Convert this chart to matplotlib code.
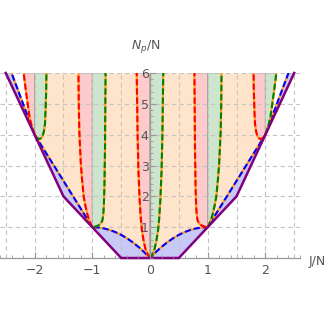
import numpy as np
import matplotlib
matplotlib.use("Agg")
from matplotlib import pyplot as plt

# lower boundary (purple)
edge_x = [-2.5, -2.0, -1.5, -1.0, -0.5, 0.5, 1.0, 1.5, 2.0, 2.5]
edge_y = [6.0, 4.0, 2.0, 1.0, 0.0, 0.0, 1.0, 2.0, 4.0, 6.0]

# blue dashed curve, right half (left half is its mirror)
blue_xr = [0.0, 0.1, 0.2, 0.3, 0.4, 0.5, 0.6, 0.7, 0.8, 0.9, 1.0,
           1.1, 1.2, 1.3, 1.4, 1.5, 1.6, 1.7, 1.8, 1.9, 2.0,
           2.1, 2.2, 2.3, 2.4, 2.5]
blue_yr = [0.0, 0.19, 0.36, 0.51, 0.64, 0.75, 0.84, 0.91, 0.96, 0.99, 1.0,
           1.3, 1.6, 1.9, 2.2, 2.5, 2.8, 3.1, 3.4, 3.7, 4.0,
           4.5, 5.0, 5.5, 6.0, 6.5]

# boundary curves on the right side (x>0); the left side mirrors them
cusp0_x = [0.0, 0.04, 0.08, 0.11, 0.14, 0.16, 0.18, 0.2, 0.215, 0.23]
cusp0_y = [0.0, 0.12, 0.3, 0.55, 0.9, 1.3, 1.9, 2.8, 4.0, 6.0]
hook1_x = [0.975, 0.93, 0.89, 0.85, 0.825, 0.81, 0.8, 0.79, 0.78, 0.775, 0.77]
hook1_y = [1.0, 1.03, 1.06, 1.12, 1.22, 1.4, 1.7, 2.3, 3.5, 4.8, 6.0]
hug1_x = [1.0, 1.03, 1.06, 1.09, 1.12, 1.15, 1.18, 1.2, 1.225, 1.235, 1.24]
hug1_y = [1.0, 1.12, 1.25, 1.45, 1.7, 2.0, 2.6, 3.1, 4.1, 5.0, 6.0]
hook2_x = [1.975, 1.93, 1.89, 1.86, 1.84, 1.82, 1.81, 1.8, 1.795]
hook2_y = [3.925, 3.86, 3.88, 3.96, 4.1, 4.35, 4.8, 5.4, 6.0]
hug2_x = [2.0, 2.03, 2.06, 2.09, 2.12, 2.15, 2.17, 2.19]
hug2_y = [4.0, 4.17, 4.35, 4.6, 5.0, 5.4, 5.7, 6.0]

xticks = [-2, -1, 0, 1, 2]
yticks = [1, 2, 3, 4, 5, 6]

c_purple = "#800080"
c_lav = "#c9c9f7"
c_peach = "#fee4cb"
c_pink = "#fdcbcb"
c_green = "#cde5cd"
c_orange = "#ff9a1a"
c_grid = "#c4c4c4"
c_text = "#555555"

blue_x = np.concatenate([-np.array(blue_xr[::-1]), blue_xr[1:]])
blue_y = np.concatenate([blue_yr[::-1], blue_yr[1:]])

def mirror(xs):
    return [-v for v in xs]

# (curve x, curve y, integer it hangs from)
red_curves = [
    (mirror(hug2_x), hug2_y, -2),
    (mirror(hug1_x), hug1_y, -1),
    (mirror(cusp0_x), cusp0_y, 0),
    (hook1_x, hook1_y, 1),
    (hook2_x, hook2_y, 2),
]
green_curves = [
    (mirror(hook2_x), hook2_y, -2),
    (mirror(hook1_x), hook1_y, -1),
    (cusp0_x, cusp0_y, 0),
    (hug1_x, hug1_y, 1),
    (hug2_x, hug2_y, 2),
]

fig = plt.figure(figsize=(3.27, 3.27), dpi=100)
ax = fig.add_axes([0.0, 0.211, 0.9174, 0.5657])
ax.set_xlim(-2.6, 2.6)
ax.set_ylim(0, 6)

# purple region between boundary and blue curve
edge_on_blue = np.interp(blue_x, edge_x, edge_y)
ax.fill_between(blue_x, edge_on_blue, blue_y, color=c_lav, lw=0, zorder=1)

# peach background above the blue curve between -2 and 2
m = (blue_x >= -2.0) & (blue_x <= 2.0)
ax.fill_between(blue_x[m], blue_y[m], 6, color=c_peach, lw=0, zorder=1)

for cx, cy, n in red_curves:
    px = list(cx) + [n, n]
    py = list(cy) + [6, cy[0]]
    ax.fill(px, py, facecolor=c_pink, edgecolor=(0.55, 0.55, 0.55, 0.6), lw=0.7, zorder=2)
for cx, cy, n in green_curves:
    px = list(cx) + [n, n]
    py = list(cy) + [6, cy[0]]
    ax.fill(px, py, facecolor=c_green, edgecolor=(0.55, 0.55, 0.55, 0.6), lw=0.7, zorder=2)

# dashed grid
for gx in np.arange(-2.5, 2.51, 0.5):
    ax.axvline(gx, color=c_grid, lw=0.8, ls=(0, (4, 3)), zorder=3)
for gy in yticks:
    ax.axhline(gy, color=c_grid, lw=0.8, ls=(0, (4, 3)), zorder=3)

# purple edge
ax.plot(edge_x, edge_y, color=c_purple, lw=1.8, zorder=6, clip_on=False,
        solid_joinstyle="miter")

# blue dashed with orange underneath
lw = 1.5
dash = (0, (3, 1.4))
ax.plot(blue_x, blue_y, color=c_orange, lw=lw, zorder=5)
ax.plot(blue_x, blue_y, color="blue", lw=lw, ls=dash, zorder=5)

for cx, cy, n in red_curves:
    ax.plot(cx, cy, color=c_orange, lw=lw, zorder=5)
    ax.plot(cx, cy, color="red", lw=lw, ls=dash, zorder=5)
for cx, cy, n in green_curves:
    ax.plot(cx, cy, color=c_orange, lw=lw, zorder=5)
    ax.plot(cx, cy, color="green", lw=lw, ls=dash, zorder=5)

# axes through the origin
for side in ["top", "right"]:
    ax.spines[side].set_visible(False)
ax.spines["left"].set_position(("data", 0))
ax.spines["bottom"].set_position(("data", 0))
for side in ["left", "bottom"]:
    ax.spines[side].set_color("#999999")
    ax.spines[side].set_linewidth(0.9)
    ax.spines[side].set_zorder(4)
ax.patch.set_visible(False)
ax.xaxis.set_zorder(7)
ax.yaxis.set_zorder(7)

ax.set_xticks(xticks)
ax.set_xticklabels(["\u22122", "\u22121", "0", "1", "2"])
ax.set_yticks(yticks)
ax.set_xticks(np.arange(-2.6, 2.61, 0.2), minor=True)
ax.set_yticks(np.arange(0, 6.01, 0.2), minor=True)
ax.tick_params(which="major", direction="in", length=4, width=0.8,
               color="#999999", labelsize=9, labelcolor=c_text)
ax.tick_params(which="minor", direction="in", length=2, width=0.6, color="#999999")
ax.tick_params(axis="x", pad=4)
ax.tick_params(axis="y", pad=1)

fig.text(317 / 327, 1 - 262 / 327, "J/N", ha="center", va="center",
         fontsize=9, color=c_text)
fig.text(146 / 327, 1 - 47 / 327, r"$N_p$/N", ha="center", va="center",
         fontsize=9, color=c_text)

fig.savefig("out.png", dpi=100)
